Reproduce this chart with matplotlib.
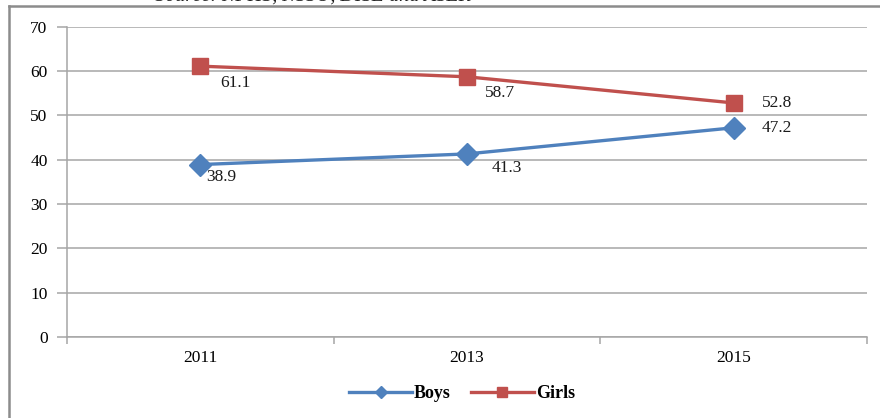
import matplotlib
matplotlib.use("Agg")
import matplotlib.pyplot as plt
from matplotlib.lines import Line2D

years = ["2011", "2013", "2015"]
boys = [38.9, 41.3, 47.2]
girls = [61.1, 58.7, 52.8]
y_ticks = [0, 10, 20, 30, 40, 50, 60, 70]

boys_offsets = [(15, -9), (29, -10), (31, 0)]
girls_offsets = [(25, -12), (24, -12), (31, 0)]

plt.rcParams['font.family'] = ['Liberation Serif', 'DejaVu Serif']

W, H = 880, 418
fig = plt.figure(figsize=(W / 100, H / 100), dpi=100)
ax = fig.add_axes([67 / W, 1 - 337 / H, 800 / W, (337 - 26.7) / H])

grid_c = '#A6A6A6'
blue = '#4F81BD'
red = '#C0504D'
fs = 12.5

x = list(range(len(years)))
ax.plot(x, boys, color=blue, lw=2.4, marker='D', markersize=11, label='Boys', zorder=3)
ax.plot(x, girls, color=red, lw=2.4, marker='s', markersize=11.5, label='Girls', zorder=3)

for xi, v, off in zip(x, boys, boys_offsets):
    ax.annotate(f"{v:.1f}", (xi, v), xytext=off, textcoords='offset points',
                ha='center', va='center', fontsize=fs, color='#1a1a1a')
for xi, v, off in zip(x, girls, girls_offsets):
    ax.annotate(f"{v:.1f}", (xi, v), xytext=off, textcoords='offset points',
                ha='center', va='center', fontsize=fs, color='#1a1a1a')

ax.set_xlim(-0.5, len(years) - 0.5)
ax.set_ylim(0, 70)
ax.set_yticks(y_ticks)
ax.set_yticklabels([str(t) for t in y_ticks], fontsize=fs)
ax.yaxis.grid(True, color=grid_c, lw=1.1)
ax.set_axisbelow(True)

ax.set_xticks([i - 0.5 for i in range(len(years) + 1)])
ax.set_xticklabels([])
ax.set_xticks(x, minor=True)
ax.set_xticklabels(years, minor=True, fontsize=fs)
ax.tick_params(axis='x', which='major', length=5, color=grid_c, width=1.1)
ax.tick_params(axis='x', which='minor', length=0, pad=9)
ax.tick_params(axis='y', length=7, color=grid_c, width=1.1, pad=7)

for s in ['top', 'right']:
    ax.spines[s].set_visible(False)
for s in ['left', 'bottom']:
    ax.spines[s].set_color(grid_c)
    ax.spines[s].set_linewidth(1.1)

leg = fig.legend(loc='center', bbox_to_anchor=(462 / W, 1 - 394 / H), ncol=2,
                 frameon=False, handlelength=3.5, columnspacing=1.1, handletextpad=0.1,
                 markerscale=0.6, prop={'weight': 'bold', 'size': 13})

# outer chart frame
frame_c = '#8C8C8C'
fig.add_artist(Line2D([8.5 / W, 8.5 / W], [0, 1 - 5.5 / H], color=frame_c, lw=1.8,
                      transform=fig.transFigure))
fig.add_artist(Line2D([8.5 / W, 1], [1 - 5.5 / H, 1 - 5.5 / H], color=frame_c, lw=1.8,
                      transform=fig.transFigure))

# source note cropped at the top of the image
fig.text(155 / W, 1 - 1 / H, "Source: NFHS, NSSO, DISE and ASER", fontsize=14.5,
         style='italic', ha='left', va='baseline', color='#222222')

fig.savefig("out.png", dpi=100)
